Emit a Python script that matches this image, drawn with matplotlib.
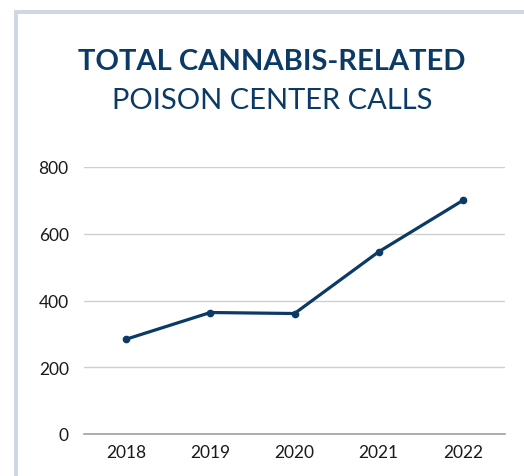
import matplotlib
matplotlib.use("Agg")
import matplotlib.pyplot as plt
from matplotlib.patches import Rectangle

years = ["2018", "2019", "2020", "2021", "2022"]
calls = [284, 364, 361, 546, 700]
yticks = [0, 200, 400, 600, 800]

navy = "#0b3a66"
frame = "#cdd8e4"

plt.rcParams["font.family"] = ["Lato", "DejaVu Sans"]

fig = plt.figure(figsize=(5.24, 4.77), dpi=100)

# light frame along top and left edge
fig.add_artist(Rectangle((14 / 524, 0), 4 / 524, 1 - 11 / 477, transform=fig.transFigure,
                         color=frame, lw=0))
fig.add_artist(Rectangle((14 / 524, 1 - 15 / 477), 1, 4 / 477, transform=fig.transFigure,
                         color=frame, lw=0))

fig.text(0.519, 1 - 62 / 477, "TOTAL CANNABIS-RELATED", ha="center", va="center",
         fontsize=21, fontweight="bold", color=navy)
fig.text(0.519, 1 - 101 / 477, "POISON CENTER CALLS", ha="center", va="center",
         fontsize=21, color=navy)

ax = fig.add_axes([84 / 524, 1 - 435 / 477, 421 / 524, 267 / 477])
x = range(len(years))
ax.plot(x, calls, color=navy, lw=2.3, marker="o", markersize=4.5, zorder=3)

ax.set_xlim(-0.5, len(years) - 0.5)
ax.set_ylim(0, 800)
ax.set_xticks(list(x))
ax.set_xticklabels(years)
ax.set_yticks(yticks)
ax.yaxis.grid(True, color="#d0d0d0", lw=1)
ax.set_axisbelow(True)
for s in ["top", "right", "left"]:
    ax.spines[s].set_visible(False)
ax.spines["bottom"].set_color("#a0a0a0")
ax.spines["bottom"].set_linewidth(1.2)
ax.tick_params(length=0, labelsize=12.5, colors="#1a1a1a", pad=7)
ax.tick_params(axis="y", pad=11)

fig.savefig("out.png", dpi=100)
